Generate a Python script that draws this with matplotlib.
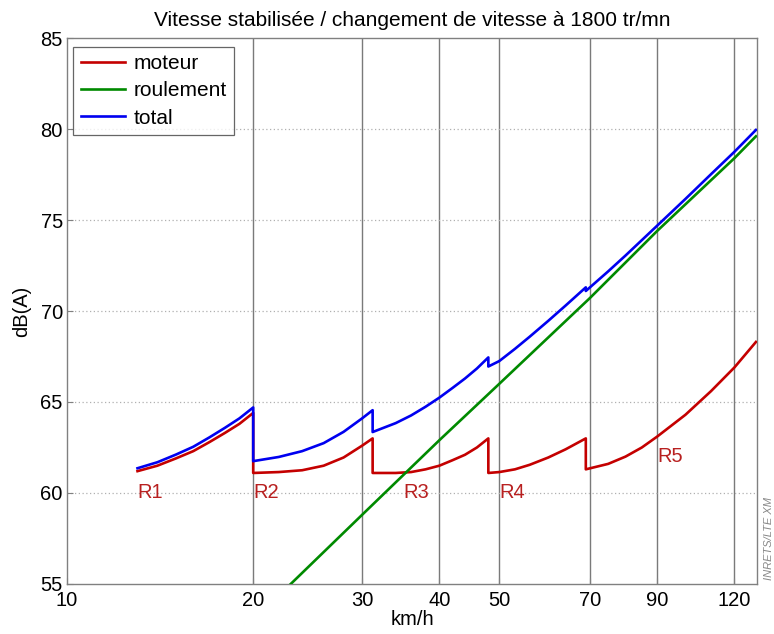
import matplotlib
matplotlib.use('Agg')
import matplotlib.pyplot as plt

plt.rcParams['font.family'] = ['Liberation Sans', 'DejaVu Sans']

# moteur : une liste par rapport de boite (R1..R5)
moteur_x = [
    [13, 14, 15, 16, 17, 18, 19, 20],
    [20, 22, 24, 26, 28, 30, 31.2],
    [31.2, 34, 36, 38, 40, 42, 44, 46, 48],
    [48, 50, 53, 56, 60, 64, 69],
    [69, 75, 80, 85, 90, 100, 110, 120, 130],
]
moteur_y = [
    [61.2, 61.5, 61.9, 62.3, 62.8, 63.3, 63.8, 64.4],
    [61.1, 61.15, 61.25, 61.5, 61.95, 62.6, 63.0],
    [61.1, 61.1, 61.15, 61.3, 61.5, 61.8, 62.1, 62.5, 63.0],
    [61.1, 61.15, 61.3, 61.55, 61.95, 62.4, 63.0],
    [61.3, 61.6, 62.0, 62.5, 63.1, 64.3, 65.6, 66.9, 68.3],
]

# roulement
roul_x = [23, 30, 40, 50, 70, 90, 120, 130]
roul_y = [55.0, 58.8, 62.9, 66.0, 70.7, 74.4, 78.4, 79.6]

# total
total_x = [
    [13, 14, 15, 16, 17, 18, 19, 20],
    [20, 22, 24, 26, 28, 30, 31.2],
    [31.2, 34, 36, 38, 40, 42, 44, 46, 48],
    [48, 50, 53, 56, 60, 64, 69],
    [69, 75, 80, 90, 100, 110, 120, 130],
]
total_y = [
    [61.36, 61.69, 62.11, 62.54, 63.06, 63.58, 64.1, 64.7],
    [61.75, 61.98, 62.3, 62.74, 63.36, 64.1, 64.55],
    [63.35, 63.84, 64.26, 64.74, 65.24, 65.77, 66.29, 66.84, 67.45],
    [66.95, 67.25, 67.92, 68.59, 69.46, 70.3, 71.3],
    [71.1, 72.18, 73.05, 74.69, 76.16, 77.52, 78.75, 79.95],
]

rapports = ['R1', 'R2', 'R3', 'R4', 'R5']
rapports_pos = [(13.0, 60.0), (20.0, 60.0), (35.0, 60.0), (50.0, 60.0), (90.0, 62.0)]

xticks = [10, 20, 30, 40, 50, 70, 90, 120]
yticks = [55, 60, 65, 70, 75, 80, 85]

rouge = '#c40000'
vert = '#008a00'
bleu = '#0000f0'

fig = plt.figure(figsize=(7.74, 6.34), dpi=100)
ax = fig.add_axes([0.0866, 0.0789, 0.8914, 0.8611])

# chaines moteur et total : on relie les segments (chute verticale au changement de rapport)
mx, my, tx, ty = [], [], [], []
for i in range(len(moteur_x)):
    mx += moteur_x[i]
    my += moteur_y[i]
    tx += total_x[i]
    ty += total_y[i]

ax.plot(mx, my, color=rouge, lw=1.9, label='moteur', zorder=3)
ax.plot(roul_x, roul_y, color=vert, lw=1.9, label='roulement', zorder=3)
ax.plot(tx, ty, color=bleu, lw=1.9, label='total', zorder=4)

ax.set_xscale('log')
ax.set_xlim(10, 130.5)
ax.set_ylim(55, 85)
ax.set_xticks(xticks)
ax.set_xticklabels([str(v) for v in xticks])
ax.minorticks_off()
ax.set_yticks(yticks)

for v in xticks[1:]:
    ax.axvline(v, color='#7a7a7a', lw=1.0, zorder=1)
for v in yticks[1:-1]:
    ax.axhline(v, color='#b0b0b0', lw=0.9, ls=(0, (1, 2)), zorder=1)

for s in ax.spines.values():
    s.set_color('#808080')
    s.set_linewidth(1.0)
ax.tick_params(direction='in', length=4, color='#808080', labelsize=14.5, pad=3)
ax.tick_params(axis='x', pad=5)
# le 55 remonte un peu pour ne pas toucher le 10
ax.get_yticklabels()[0].set_verticalalignment('center_baseline')

for lab, (px, py) in zip(rapports, rapports_pos):
    ax.text(px, py, lab, color='#b82020', fontsize=14.5, ha='left', va='center', zorder=5)

ax.set_xlabel('km/h', fontsize=14.5, labelpad=0)
ax.set_ylabel('dB(A)', fontsize=14.5, labelpad=7)
ax.set_title('Vitesse stabilisée / changement de vitesse à 1800 tr/mn', fontsize=15, pad=9)

leg = ax.legend(loc='upper left', bbox_to_anchor=(0.009, 0.984), borderaxespad=0,
                fontsize=15, frameon=True, fancybox=False,
                handlelength=2.15, handletextpad=0.4, borderpad=0.35, labelspacing=0.4)
leg.get_frame().set_edgecolor('#404040')
leg.get_frame().set_linewidth(0.9)

fig.text(0.994, 0.085, 'INRETS/LTE XM', rotation=90, fontsize=8, color='#888888',
         style='italic', ha='center', va='bottom')

fig.savefig('out.png', dpi=100)
